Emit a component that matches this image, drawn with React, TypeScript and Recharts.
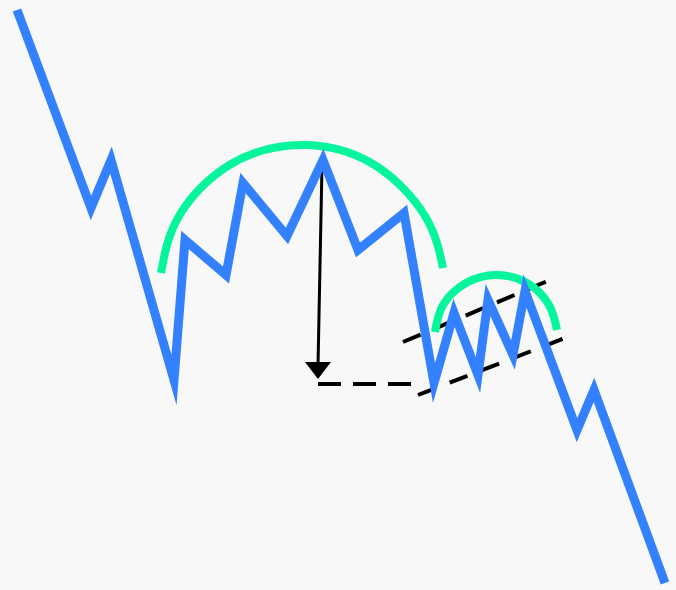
import { LineChart, Line, XAxis, YAxis } from "recharts"

// price path (x, y, y grows downward)
const priceX = [17, 91, 111, 174, 185, 226, 243, 287, 323, 358, 404, 434, 454, 478, 488, 513, 525, 577, 594, 665]
const priceY = [10, 208, 160, 380, 240, 275, 183, 236, 160, 250, 213, 383, 313, 375, 300, 355, 291, 430, 390, 583]

// cup (big rounded top)
const cupX = [161, 179, 231, 302, 373, 425, 443]
const cupY = [273, 216, 164, 145, 164, 216, 268]

// handle (small rounded top)
const handleX = [435, 443, 466, 496, 527, 549, 557]
const handleY = [332, 305, 283, 275, 283, 305, 330]

// channel and target lines
const upperX = [403, 550]
const upperY = [342, 280]
const lowerX = [418, 565]
const lowerY = [395, 338]
const targetX = [318, 416]
const targetY = [384, 384]
const arrowX = [322, 318]
const arrowY = [165, 366]

const zip = (xs: number[], ys: number[]) => xs.map((x, i) => ({ x, y: ys[i] }))

const price = zip(priceX, priceY)
const cup = zip(cupX, cupY)
const handle = zip(handleX, handleY)
const upper = zip(upperX, upperY)
const lower = zip(lowerX, lowerY)
const target = zip(targetX, targetY)
const arrow = zip(arrowX, arrowY)

const BLUE = "#3381ff"
const GREEN = "#05f59c"

const ArrowHead = (props: any) => {
  const { cx, cy, index } = props
  if (index !== 1 || cx == null) return <g key={index} />
  return (
    <polygon
      key={index}
      points={`${cx - 13},${cy - 4} ${cx + 13},${cy - 4} ${cx},${cy + 13}`}
      fill="#000"
    />
  )
}

export default function App() {
  return (
    <div style={{ position: "absolute", left: 0, top: 0, width: 676, height: 590, background: "#f8f8f8" }}>
      <LineChart width={676} height={590} margin={{ top: 0, right: 0, left: 0, bottom: 0 }}>
        <XAxis type="number" dataKey="x" domain={[0, 676]} hide />
        <YAxis type="number" domain={[0, 590]} reversed hide />
        <Line data={upper} dataKey="y" stroke="#000" strokeWidth={4} strokeDasharray="19 15" dot={false} activeDot={false} isAnimationActive={false} />
        <Line data={lower} dataKey="y" stroke="#000" strokeWidth={4} strokeDasharray="19 15" dot={false} activeDot={false} isAnimationActive={false} />
        <Line data={target} dataKey="y" stroke="#000" strokeWidth={4} strokeDasharray="23 12" dot={false} activeDot={false} isAnimationActive={false} />
        <Line data={arrow} dataKey="y" stroke="#000" strokeWidth={3} dot={<ArrowHead />} activeDot={false} isAnimationActive={false} />
        <Line data={cup} dataKey="y" type="natural" stroke={GREEN} strokeWidth={8} dot={false} activeDot={false} isAnimationActive={false} />
        <Line data={handle} dataKey="y" type="natural" stroke={GREEN} strokeWidth={8} dot={false} activeDot={false} isAnimationActive={false} />
        <Line
          data={price}
          dataKey="y"
          type="linear"
          stroke={BLUE}
          strokeWidth={9}
          strokeLinejoin="miter"
          strokeMiterlimit={10}
          dot={false}
          activeDot={false}
          isAnimationActive={false}
        />
      </LineChart>
    </div>
  )
}
